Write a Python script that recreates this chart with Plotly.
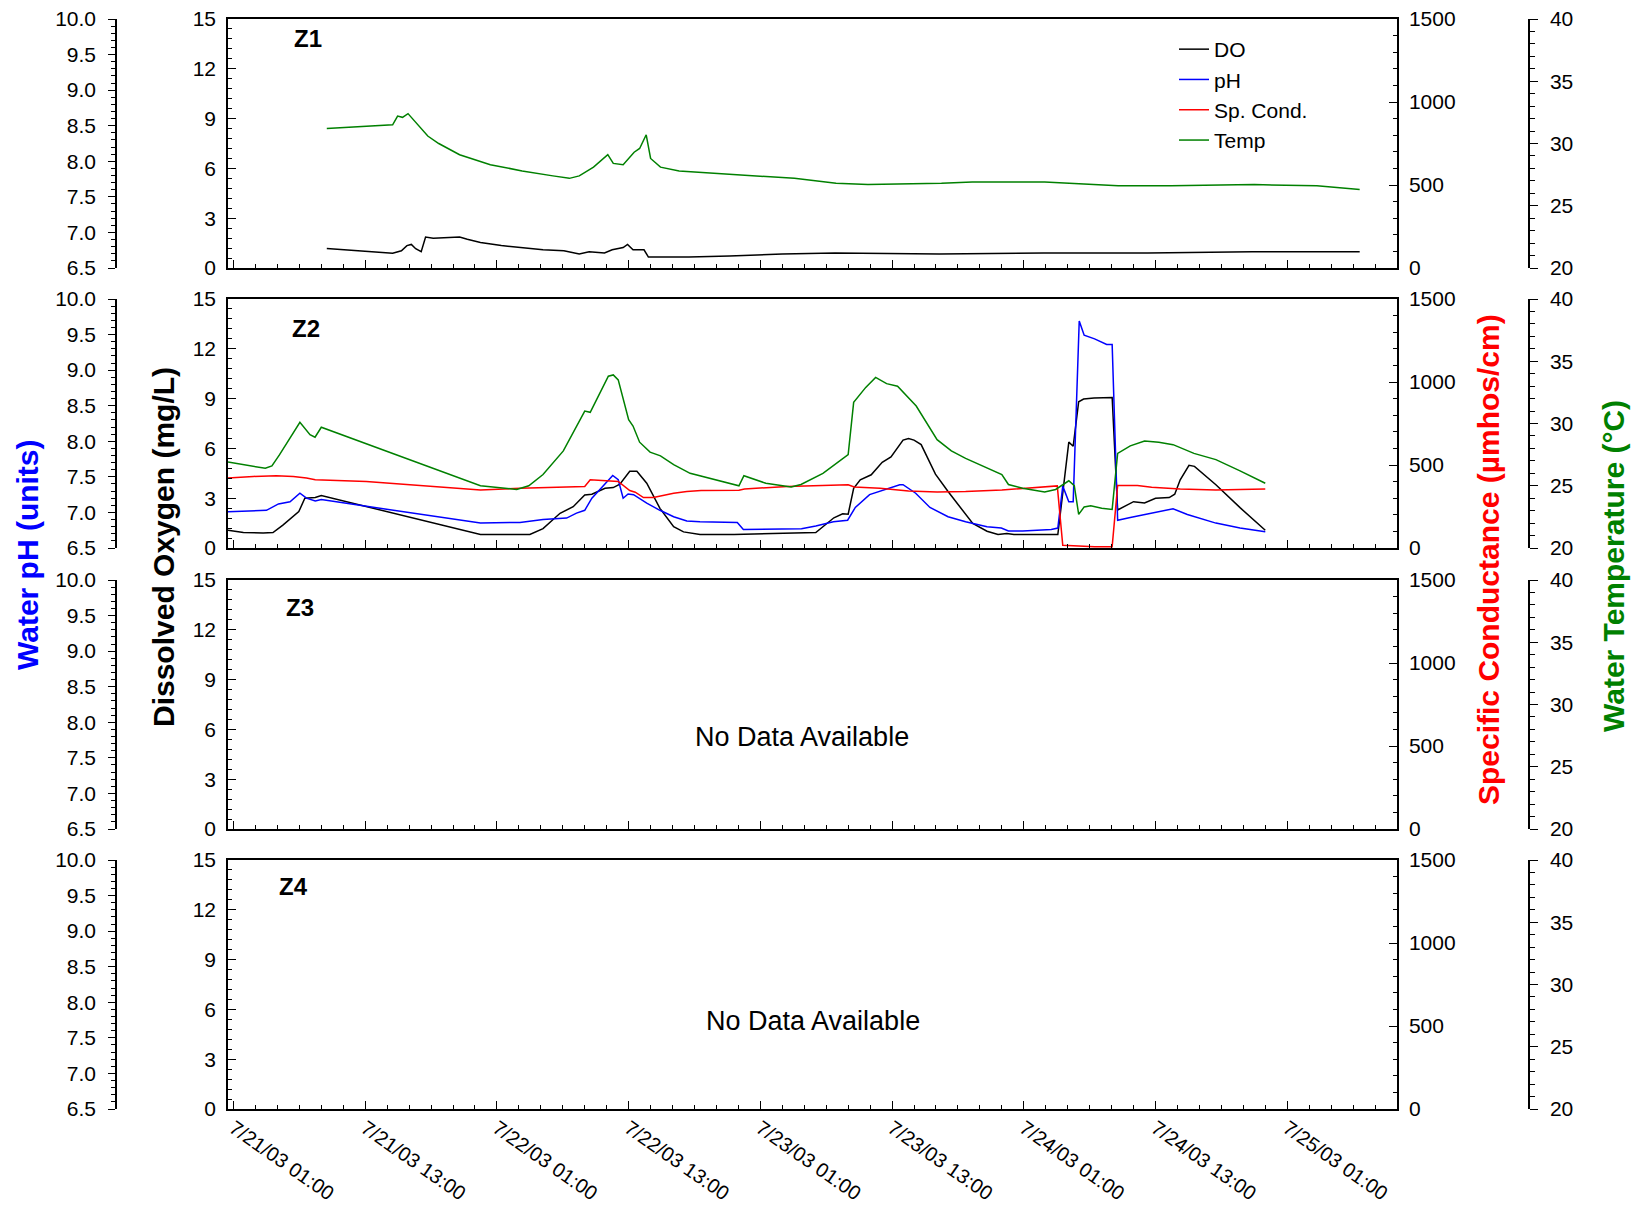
import plotly.graph_objects as go
import pandas as pd

START = pd.Timestamp("2003-07-21 00:00")

# ---------------- data (hours after 7/21/03 00:00) ----------------
# Z1
z1_do_hours = [9.5, 15.5, 16.3, 16.8, 17.2, 17.6, 18.1, 18.5, 19.2, 21.6, 22.3, 23.5, 25.4, 27.3,
               29.2, 31.1, 32.5, 33.4, 34.8, 35.5, 36.5, 36.9, 37.4, 38.4, 38.8, 42.5, 46.2, 51.0,
               55.8, 65.3, 74.8, 84.3, 93.8, 103.6]
z1_do = [1.17, 0.89, 1.04, 1.35, 1.42, 1.16, 0.98, 1.86, 1.79, 1.86, 1.73, 1.54, 1.35, 1.23,
         1.10, 1.04, 0.85, 0.98, 0.91, 1.10, 1.23, 1.42, 1.10, 1.10, 0.66, 0.66, 0.72, 0.85,
         0.91, 0.85, 0.91, 0.91, 0.98, 0.98]
z1_temp_hours = [9.5, 15.5, 15.95, 16.4, 16.9, 17.6, 18.7, 19.7, 21.6, 24.4, 27.3, 30.1, 31.6,
                 32.5, 33.8, 35.1, 35.6, 36.5, 37.5, 38.0, 38.6, 39.0, 39.9, 41.6, 46.4, 52.1,
                 55.9, 58.8, 65.5, 68.3, 74.9, 78.7, 81.6, 86.4, 94.0, 99.7, 103.6]
z1_temp = [31.2, 31.5, 32.2, 32.1, 32.4, 31.7, 30.6, 30.0, 29.1, 28.3, 27.8, 27.4, 27.2,
           27.4, 28.1, 29.1, 28.4, 28.3, 29.3, 29.6, 30.7, 28.8, 28.1, 27.8, 27.5, 27.2,
           26.8, 26.7, 26.8, 26.9, 26.9, 26.7, 26.6, 26.6, 26.7, 26.6, 26.3]

# Z2
z2_do_hours = [0.5, 1.9, 3.7, 4.6, 5.5, 6.45, 6.95, 7.5, 8.45, 9.0, 23.5, 28.0, 29.2, 30.75,
               31.95, 33.0, 33.65, 34.85, 35.6, 36.2, 37.1, 37.75, 38.65, 39.85, 41.1, 42.0,
               43.5, 46.6, 54.05, 55.7, 56.5, 57.0, 57.5, 58.1, 59.1, 60.1, 60.9, 62.0, 62.5,
               63.0, 63.65, 64.95, 66.1, 68.35, 69.65, 70.65, 71.45, 72.1, 76.1, 77.1, 77.5,
               78.0, 78.45, 79.4, 81.05, 81.55, 83.0, 84.0, 85.0, 86.25, 86.75, 87.25, 88.05,
               88.55, 90.5, 92.7, 95.0]
z2_do = [1.07, 0.93, 0.91, 0.93, 1.38, 1.94, 2.19, 3.0, 3.04, 3.16, 0.81, 0.81, 1.17, 2.09,
         2.49, 3.2, 3.24, 3.6, 3.64, 3.85, 4.62, 4.62, 3.9, 2.39, 1.28, 0.97,
         0.81, 0.81, 0.93, 1.82, 2.06, 2.04, 3.6, 4.11, 4.41, 5.16, 5.49, 6.5, 6.6,
         6.5, 6.23, 4.45, 3.4, 1.48, 1.01, 0.81, 0.87, 0.81, 0.81, 6.38, 6.13,
         8.81, 8.97, 9.03, 9.07, 2.29, 2.79, 2.71, 3.0, 3.04, 3.24, 4.11, 4.98,
         4.92, 3.81, 2.43, 1.07]
z2_ph_hours = [0.5, 2.8, 4.0, 5.1, 6.15, 7.05, 7.65, 8.45, 9.0, 23.5, 27.1, 29.2, 31.35, 32.25,
               33.0, 33.65, 35.55, 36.05, 36.5, 36.95, 37.45, 38.65, 39.85, 41.1, 42.3, 43.5,
               46.9, 47.45, 51.45, 52.75, 54.05, 55.65, 56.95, 57.65, 58.95, 60.25, 61.7, 62.0,
               63.15, 64.45, 66.1, 67.7, 69.65, 70.95, 71.6, 72.9, 74.2, 75.5, 76.1, 76.55,
               77.1, 77.5, 78.05, 78.5, 79.45, 80.55, 81.05, 81.55, 82.7, 84.0, 85.3, 86.6,
               87.9, 89.2, 90.5, 92.7, 95.0]
z2_ph = [7.01, 7.03, 7.03, 7.12, 7.15, 7.27, 7.20, 7.16, 7.18, 6.85, 6.86, 6.90, 6.92, 6.99,
         7.03, 7.20, 7.52, 7.46, 7.20, 7.26, 7.25, 7.13, 7.03, 6.94, 6.88, 6.87,
         6.86, 6.76, 6.76, 6.77, 6.81, 6.87, 6.89, 7.07, 7.25, 7.32, 7.39, 7.39,
         7.27, 7.07, 6.94, 6.87, 6.80, 6.78, 6.74, 6.74, 6.75, 6.76, 6.78, 7.37,
         7.15, 7.15, 9.69, 9.49, 9.44, 9.36, 9.36, 6.89, 6.93, 6.97, 7.01, 7.05,
         6.97, 6.91, 6.85, 6.78, 6.73]
z2_cond_hours = [0.5, 2.8, 4.9, 6.45, 7.65, 8.45, 13.1, 23.5, 27.1, 31.35, 33.0, 33.5, 35.0,
                 36.05, 37.1, 37.6, 38.35, 39.25, 41.1, 42.3, 43.6, 47.05, 47.55, 51.45, 57.0,
                 57.55, 59.9, 62.5, 65.1, 67.7, 71.0, 74.2, 76.05, 76.55, 77.5, 79.45, 81.05,
                 81.55, 83.35, 84.65, 87.25, 90.5, 92.7, 95.0]
z2_cond = [421, 431, 435, 431, 421, 411, 401, 350, 360, 370, 370, 411, 407,
           401, 346, 336, 304, 304, 330, 340, 346, 348, 356, 370, 381,
           368, 360, 344, 338, 340, 350, 364, 374, 16, 12, 8, 8,
           377, 377, 366, 356, 350, 352, 356]
z2_temp_hours = [0.5, 2.8, 3.9, 4.5, 5.2, 7.05, 7.97, 8.43, 9.0, 23.5, 26.8, 27.9, 29.2, 31.05,
                 33.0, 33.5, 34.7, 35.15, 35.6, 36.05, 37.0, 37.4, 38.0, 38.95, 39.9, 41.1,
                 42.6, 43.5, 44.9, 47.05, 47.5, 49.5, 51.8, 52.7, 54.7, 57.0, 57.5, 58.6,
                 59.5, 60.5, 61.5, 63.2, 65.1, 66.4, 67.7, 71.0, 71.6, 72.9, 74.9, 75.9,
                 77.1, 77.6, 78.0, 78.5, 79.1, 80.1, 81.05, 81.55, 82.7, 84.0, 85.3, 86.6,
                 88.5, 90.5, 92.7, 95.0]
z2_temp = [26.9, 26.6, 26.4, 26.6, 27.5, 30.1, 29.1, 28.9, 29.7, 25.0, 24.7, 25.0, 25.9, 27.8,
           31.0, 30.9, 33.1, 33.8, 33.9, 33.5, 30.3, 29.8, 28.5, 27.7, 27.4, 26.7,
           26.0, 25.8, 25.5, 25.0, 25.8, 25.2, 24.9, 25.1, 26.0, 27.5, 31.7, 32.9,
           33.7, 33.2, 33.0, 31.4, 28.7, 27.8, 27.2, 25.9, 25.1, 24.8, 24.5, 24.7,
           25.4, 25.0, 22.7, 23.3, 23.4, 23.2, 23.1, 27.6, 28.2, 28.6, 28.5, 28.3,
           27.6, 27.1, 26.2, 25.2]

panel_labels = ["Z1", "Z2", "Z3", "Z4"]
no_data_text = "No Data Available"
series_names = ["DO", "pH", "Sp. Cond.", "Temp"]
series_colors = ["#000000", "#0000FF", "#FF0000", "#008000"]
axis_titles = ["Water pH (units)", "Dissolved Oxygen (mg/L)",
               "Specific Conductance (µmhos/cm)", "Water Temperature (°C)"]


def to_time(hours):
    return [START + pd.Timedelta(hours=h) for h in hours]


# ---------------- layout geometry (pixels) ----------------
W, H = 1637, 1209
X0, X1 = 228, 1397
PH_X = 116
TEMP_X = 1529
TOPS = [19, 299, 580, 860]
PANEL_H = 249
FONT = "Liberation Sans, Arial, sans-serif"
TICKFONT = dict(family=FONT, size=21, color="black")
XTICKFONT = dict(family=FONT, size=20, color="black")

panels = [
    {"DO": (z1_do_hours, z1_do), "Temp": (z1_temp_hours, z1_temp)},
    {"DO": (z2_do_hours, z2_do), "pH": (z2_ph_hours, z2_ph),
     "Sp. Cond.": (z2_cond_hours, z2_cond), "Temp": (z2_temp_hours, z2_temp)},
    {},
    {},
]

xrange = [START + pd.Timedelta(hours=0.5), START + pd.Timedelta(hours=107.0)]

fig = go.Figure()
layout = {}


def yname(k):
    return "y" if k == 1 else f"y{k}"


def yaxkey(k):
    return "yaxis" if k == 1 else f"yaxis{k}"


for i in range(4):
    xn = "x" if i == 0 else f"x{i+1}"
    xk = "xaxis" if i == 0 else f"xaxis{i+1}"
    base = 4 * i + 1
    top = TOPS[i]
    dom = [1 - (top + PANEL_H) / H, 1 - top / H]

    layout[xk] = dict(
        domain=[X0 / W, X1 / W], anchor=yname(base), type="date", range=xrange,
        showline=True, linecolor="black", linewidth=1.5, mirror=True,
        ticks="inside", ticklen=8, tickwidth=1, tickcolor="black",
        tick0="2003-07-21 01:00", dtick=12 * 3600 * 1000,
        tickformat="%-m/%d/%y %H:%M", tickangle=35,
        showticklabels=(i == 3), tickfont=XTICKFONT, automargin=False,
        ticklabelstandoff=-2,
        minor=dict(dtick=2 * 3600 * 1000, tick0="2003-07-21 01:00", ticks="inside",
                   ticklen=4, tickcolor="black", tickwidth=1),
        showgrid=False, zeroline=False,
    )
    common = dict(showgrid=False, zeroline=False, showline=True, linecolor="black",
                  linewidth=1.5, tickcolor="black", tickwidth=1, tickfont=TICKFONT,
                  automargin=False)
    layout[yaxkey(base)] = dict(
        domain=dom, anchor=xn, range=[0, 15], tick0=0, dtick=3, ticks="inside", ticklen=8,
        minor=dict(dtick=0.6, tick0=0, ticks="inside", ticklen=4, tickcolor="black"),
        ticklabelstandoff=6, **common)
    layout[yaxkey(base + 1)] = dict(
        overlaying=yname(base), anchor="free", position=PH_X / W, side="left",
        range=[6.5, 10], tick0=6.5, dtick=0.5, tickformat=".1f", ticks="outside", ticklen=7,
        minor=dict(dtick=0.1, tick0=6.5, ticks="outside", ticklen=4, tickcolor="black"),
        ticklabelstandoff=8, **common)
    layout[yaxkey(base + 2)] = dict(
        overlaying=yname(base), anchor=xn, side="right", range=[0, 1500], tick0=0, dtick=500,
        ticks="inside", ticklen=8,
        minor=dict(dtick=100, tick0=0, ticks="inside", ticklen=4, tickcolor="black"),
        ticklabelstandoff=6, **common)
    layout[yaxkey(base + 3)] = dict(
        overlaying=yname(base), anchor="free", position=TEMP_X / W, side="right",
        range=[20, 40], tick0=20, dtick=5, ticks="outside", ticklen=8,
        minor=dict(dtick=1, tick0=20, ticks="outside", ticklen=5, tickcolor="black"),
        ticklabelstandoff=8, **common)

    for j, name in enumerate(series_names):
        hours, vals = panels[i].get(name, ([], []))
        fig.add_trace(go.Scatter(
            x=to_time(hours), y=vals, mode="lines", name=name,
            line=dict(color=series_colors[j], width=1.5),
            xaxis=xn, yaxis=yname(base + j),
            showlegend=(i == 1), legendrank=j + 1,
        ))

annotations = []
label_pos = [(292, 39), (290, 328), (284, 607), (277, 886)]
for lab, (px, py) in zip(panel_labels, label_pos):
    annotations.append(dict(text=f"<b>{lab}</b>", x=px / W, y=1 - py / H, xref="paper",
                            yref="paper", xanchor="left", yanchor="middle", showarrow=False,
                            font=dict(family=FONT, size=24, color="black")))
for (px, py) in [(802, 737), (813, 1021)]:
    annotations.append(dict(text=no_data_text, x=px / W, y=1 - py / H, xref="paper",
                            yref="paper", xanchor="center", yanchor="middle", showarrow=False,
                            font=dict(family=FONT, size=27, color="black")))
title_pos = [(27, 555), (164, 547), (1489, 560), (1613, 566)]
title_colors = ["#0000FF", "#000000", "#FF0000", "#008000"]
for t, (px, py), c in zip(axis_titles, title_pos, title_colors):
    annotations.append(dict(text=f"<b>{t}</b>", x=px / W, y=1 - py / H, xref="paper",
                            yref="paper", xanchor="center", yanchor="middle", showarrow=False,
                            textangle=-90, font=dict(family=FONT, size=30, color=c)))

fig.update_layout(
    width=W, height=H, margin=dict(l=0, r=0, t=0, b=0, autoexpand=False),
    paper_bgcolor="white", plot_bgcolor="white",
    font=dict(family=FONT, size=21, color="black"),
    legend=dict(x=1174 / W, y=1 - 29 / H, xanchor="left", yanchor="top",
                font=dict(family=FONT, size=21, color="black"),
                bgcolor="rgba(0,0,0,0)", borderwidth=0, tracegroupgap=0,
                itemwidth=30),
    annotations=annotations,
    **layout,
)

fig.write_html("out.html")
